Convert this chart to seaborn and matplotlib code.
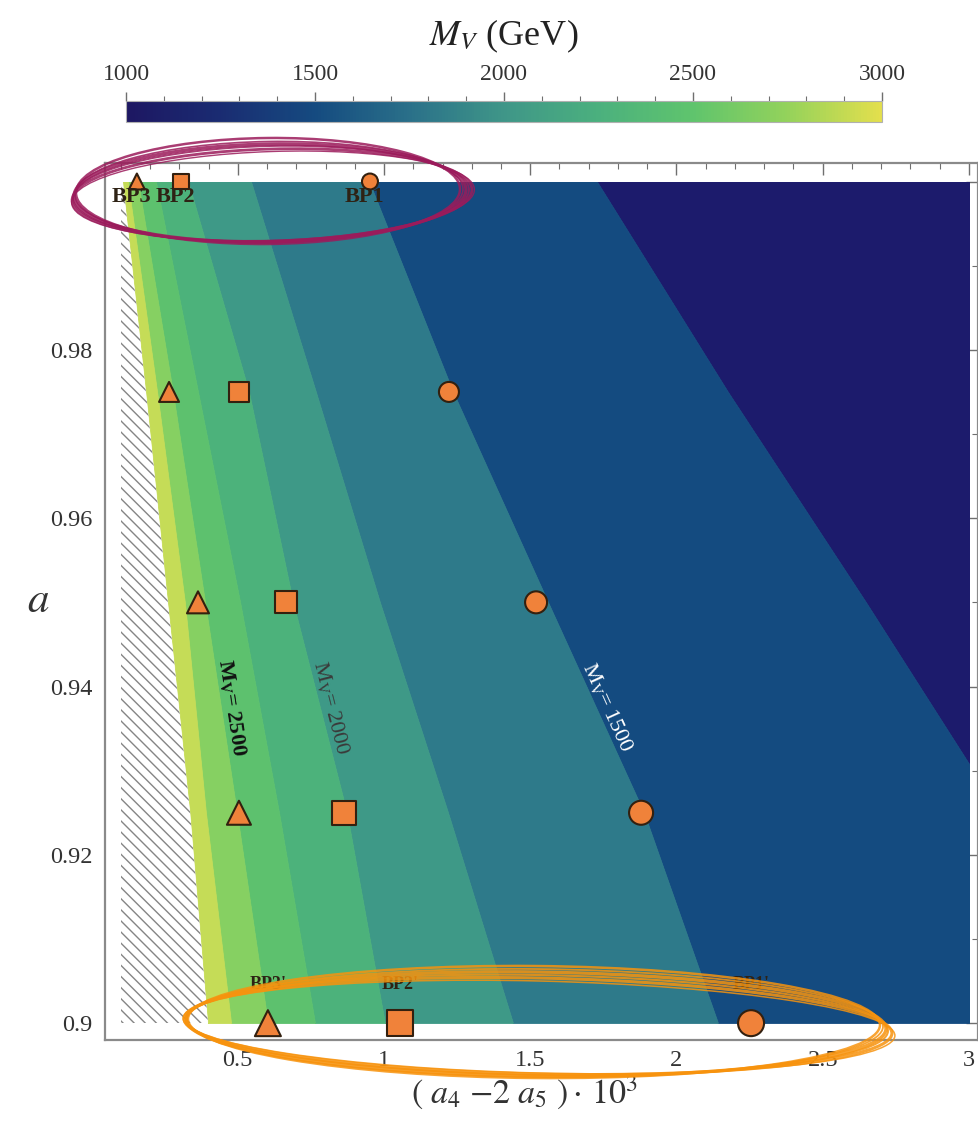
import numpy as np
import pandas as pd
import matplotlib
matplotlib.use("Agg")
import matplotlib.pyplot as plt
import seaborn as sns
from matplotlib.colors import LinearSegmentedColormap, Normalize
from matplotlib.cm import ScalarMappable
from matplotlib.patches import Ellipse, Rectangle
from matplotlib.ticker import FixedLocator, MultipleLocator

# ---------------------------------------------------------------- data
# rows of constant a at which the M_V contour crossings are tabulated
a_rows = [0.9, 0.925, 0.95, 0.975, 1.0]

# x = (a4 - 2 a5)*10^3 where M_V equals the given level (GeV), one value per a row
mv_1250 = [3.568, 3.107, 2.648, 2.176, 1.728]
mv_1500 = [2.142, 1.889, 1.561, 1.236, 0.949]
mv_1750 = [1.441, 1.219, 0.986, 0.767, 0.545]
mv_2000 = [1.003, 0.873, 0.689, 0.538, 0.330]
mv_2250 = [0.764, 0.641, 0.508, 0.364, 0.220]
mv_2500 = [0.603, 0.497, 0.388, 0.278, 0.159]
mv_2750 = [0.477, 0.391, 0.319, 0.224, 0.124]
mv_3000 = [0.398, 0.337, 0.261, 0.186, 0.107]
contour_levels = [1250, 1500, 1750, 2000, 2250, 2500, 2750, 3000]
labeled_levels = [1500, 2000, 2500]

# benchmark points
bp_a = [1.0, 0.975, 0.95, 0.925, 0.9]
bp1_x = [0.952, 1.222, 1.520, 1.879, 2.255]
bp2_x = [0.306, 0.504, 0.665, 0.863, 1.055]
bp3_x = [0.155, 0.265, 0.364, 0.504, 0.603]
top_labels = ["BP1", "BP2", "BP3"]
bottom_labels = ["BP1'", "BP2'", "BP3'"]

cbar_ticks = [1000, 1500, 2000, 2500, 3000]
x_ticks = [0.5, 1.0, 1.5, 2.0, 2.5, 3.0]
x_ticklabels = ["0.5", "1", "1.5", "2", "2.5", "3"]
y_ticks = [0.9, 0.92, 0.94, 0.96, 0.98, 1.0]
y_ticklabels = ["0.9", "0.92", "0.94", "0.96", "0.98", ""]

# ---------------------------------------------------------------- style
x_lo, x_hi = 0.1, 3.0
a_lo, a_hi = 0.9, 1.0
band_colors = {
    1250: "#1c1b6c", 1500: "#144b80", 1750: "#2e7a8a", 2000: "#3e9987",
    2250: "#4cb27b", 2500: "#5dc16e", 2750: "#86d062", 3000: "#c5dc57",
}
cmap_pos = [0.0, 0.125, 0.25, 0.375, 0.5, 0.625, 0.75, 0.875, 1.0]
cmap_cols = ["#1d1762", "#1a2c72", "#154b80", "#2a7089", "#3f9688",
             "#4bb07e", "#5fc46d", "#93d25b", "#e3df4d"]
marker_sizes = {1.0: 132, 0.975: 207, 0.95: 251, 0.925: 299, 0.9: 350}
orange = "#f0823a"
frame_col = "#8a8a8a"
text_col = "#333333"

sns.set_style("white")
plt.rcParams.update({
    "font.family": ["Liberation Serif", "DejaVu Serif"],
    "mathtext.fontset": "stix",
    "hatch.color": "#858585",
    "hatch.linewidth": 1.0,
})

W, H = 979, 1131
fig = plt.figure(figsize=(W / 100, H / 100), dpi=100)
ax = fig.add_axes([105 / W, 1 - 1040 / H, 873 / W, 877 / H])
ax.set_xlim(0.046, 3.031)
ax.set_ylim(0.898, 1.0022)

# ---------------------------------------------------------------- filled bands
bounds = {1250: mv_1250, 1500: mv_1500, 1750: mv_1750, 2000: mv_2000,
          2250: mv_2250, 2500: mv_2500, 2750: mv_2750, 3000: mv_3000}
clip_rect = Rectangle((x_lo, a_lo), x_hi - x_lo, a_hi - a_lo, transform=ax.transData)

far_right = [x_hi + 1.0] * len(a_rows)
coll = ax.fill_betweenx(a_rows, bounds[1250], far_right, facecolor=band_colors[1250],
                        edgecolor=band_colors[1250], linewidth=0.6, zorder=1)
coll.set_clip_path(clip_rect)
for lower, upper in zip(contour_levels[:-1], contour_levels[1:]):
    coll = ax.fill_betweenx(a_rows, bounds[upper], bounds[lower],
                            facecolor=band_colors[upper], edgecolor=band_colors[upper],
                            linewidth=0.6, zorder=1)
    coll.set_clip_path(clip_rect)

# excluded region (M_V above 3 TeV)
hatch = ax.fill_betweenx(a_rows, [x_lo] * len(a_rows), bounds[3000], facecolor="white",
                         edgecolor="#858585", hatch="\\\\\\", linewidth=0, zorder=1)
hatch.set_clip_path(clip_rect)

# ---------------------------------------------------------------- benchmark markers
df = pd.DataFrame({
    "x": bp1_x + bp2_x + bp3_x,
    "a": bp_a * 3,
    "bp": ["BP1"] * 5 + ["BP2"] * 5 + ["BP3"] * 5,
})
sns.scatterplot(data=df, x="x", y="a", style="bp",
                markers={"BP1": "o", "BP2": "s", "BP3": "^"},
                size="a", sizes=marker_sizes, color=orange,
                edgecolor="#33200f", linewidth=1.5, legend=False, ax=ax, zorder=5)

top_x = [bp1_x[0], bp2_x[0], bp3_x[0]]
for name, xv in zip(top_labels, top_x):
    ax.annotate(name, (xv, bp_a[0]), xytext=(-4, -11), textcoords="offset points",
                ha="center", va="center", fontsize=16, fontweight="bold",
                color="#2e2214", zorder=6)
bot_x = [bp1_x[-1], bp2_x[-1], bp3_x[-1]]
for name, xv in zip(bottom_labels, bot_x):
    ax.annotate(name, (xv, bp_a[-1]), xytext=(0, 28), textcoords="offset points",
                ha="center", va="center", fontsize=13, fontweight="bold",
                color="#2e2214", zorder=6)

# ---------------------------------------------------------------- contour labels
label_style = {1500: ("white", "normal"), 2000: ("#3a3a3a", "normal"),
               2500: ("#111111", "bold")}
for lvl in labeled_levels:
    xs = bounds[lvl]
    p_lo = ax.transData.transform((xs[1], a_rows[1]))
    p_hi = ax.transData.transform((xs[2], a_rows[2]))
    ang = np.degrees(np.arctan2(p_lo[1] - p_hi[1], p_lo[0] - p_hi[0]))
    xm = 0.5 * (xs[1] + xs[2])
    am = 0.5 * (a_rows[1] + a_rows[2])
    col, wt = label_style[lvl]
    ax.annotate(r"M$_{\mathregular{V}}$= " + str(lvl), (xm, am), xytext=(8, 0),
                textcoords="offset points", rotation=ang, ha="center", va="center",
                fontsize=16, color=col, fontweight=wt, zorder=4)

# ---------------------------------------------------------------- axes frame
ax.set_xticks(x_ticks)
ax.set_xticklabels(x_ticklabels)
ax.set_yticks(y_ticks)
ax.set_yticklabels(y_ticklabels)
ax.xaxis.set_minor_locator(FixedLocator(np.round(np.arange(0.1, 3.001, 0.1), 2)))
ax.yaxis.set_minor_locator(FixedLocator(np.round(np.arange(0.9, 1.0001, 0.01), 3)))
ax.tick_params(which="both", direction="in", top=True, right=True, color="#6f6f6f",
               labelsize=17.5, labelcolor=text_col)
ax.tick_params(which="major", length=8.5, width=1.0)
ax.tick_params(which="minor", length=4.5, width=0.8)
ax.tick_params(axis="x", pad=7)
ax.tick_params(axis="y", pad=9)
for sp in ax.spines.values():
    sp.set_color(frame_col)
    sp.set_linewidth(1.6)
    sp.set_visible(True)

ax.set_xlabel(r"$(\ a_4\ {-2}\ a_5\ )\cdot\, 10^3$", fontsize=24.5, color=text_col)
ax.xaxis.set_label_coords(0.48, -0.038)
ax.set_ylabel(r"$a$", fontsize=31, rotation=0, ha="center", va="center", color=text_col)
ax.yaxis.set_label_coords(-0.0767, 0.4994)

# ---------------------------------------------------------------- colour bar
cax = fig.add_axes([126 / W, 1 - 122 / H, 756 / W, 21 / H])
cmap = LinearSegmentedColormap.from_list("mv", list(zip(cmap_pos, cmap_cols)))
cb = fig.colorbar(ScalarMappable(Normalize(1000, 3000), cmap), cax=cax,
                  orientation="horizontal", ticklocation="top")
cb.set_ticks(cbar_ticks)
cb.set_ticklabels([str(t) for t in cbar_ticks])
cax.xaxis.set_minor_locator(MultipleLocator(100))
cax.tick_params(which="both", direction="out", color="#6f6f6f", labelsize=17,
                labelcolor=text_col, pad=5)
cax.tick_params(which="major", length=6.5, width=1.0)
cax.tick_params(which="minor", length=3.5, width=0.8)
cb.outline.set_edgecolor("#b0b0b0")
cb.outline.set_linewidth(0.8)
fig.text(504 / W, 1 - 36 / H, r"$M_V$ (GeV)", ha="center", va="center",
         fontsize=26, color="#222222")

# ---------------------------------------------------------------- hand-drawn rings
ov = fig.add_axes([0, 0, 1, 1], zorder=10)
ov.set_xlim(0, W)
ov.set_ylim(H, 0)
ov.set_axis_off()
ov.patch.set_alpha(0)
magenta_rings = [(270, 193, 392, 98, -1.0, 2.4), (272, 195, 400, 92, -1.6, 2.0),
                 (268, 191, 384, 106, -0.6, 1.8), (271, 194, 396, 96, -1.3, 1.4),
                 (269, 192, 388, 101, -0.9, 1.2), (273, 196, 403, 89, -1.9, 1.0)]
for cx, cy, w, h, ang, lw in magenta_rings:
    ov.add_patch(Ellipse((cx, cy), w, h, angle=ang, fill=False, edgecolor="#9b1b5b",
                         linewidth=lw, alpha=0.85))
orange_rings = [(536, 1024, 700, 104, 0.8, 2.4), (538, 1026, 708, 96, 1.2, 2.2),
                (534, 1022, 692, 112, 0.5, 1.8), (537, 1025, 702, 100, 1.0, 1.5),
                (535, 1023, 696, 108, 0.6, 1.3), (539, 1027, 712, 92, 1.4, 1.1)]
for cx, cy, w, h, ang, lw in orange_rings:
    ov.add_patch(Ellipse((cx, cy), w, h, angle=ang, fill=False, edgecolor="#f7930e",
                         linewidth=lw, alpha=0.85))

fig.savefig("out.png", dpi=100)
